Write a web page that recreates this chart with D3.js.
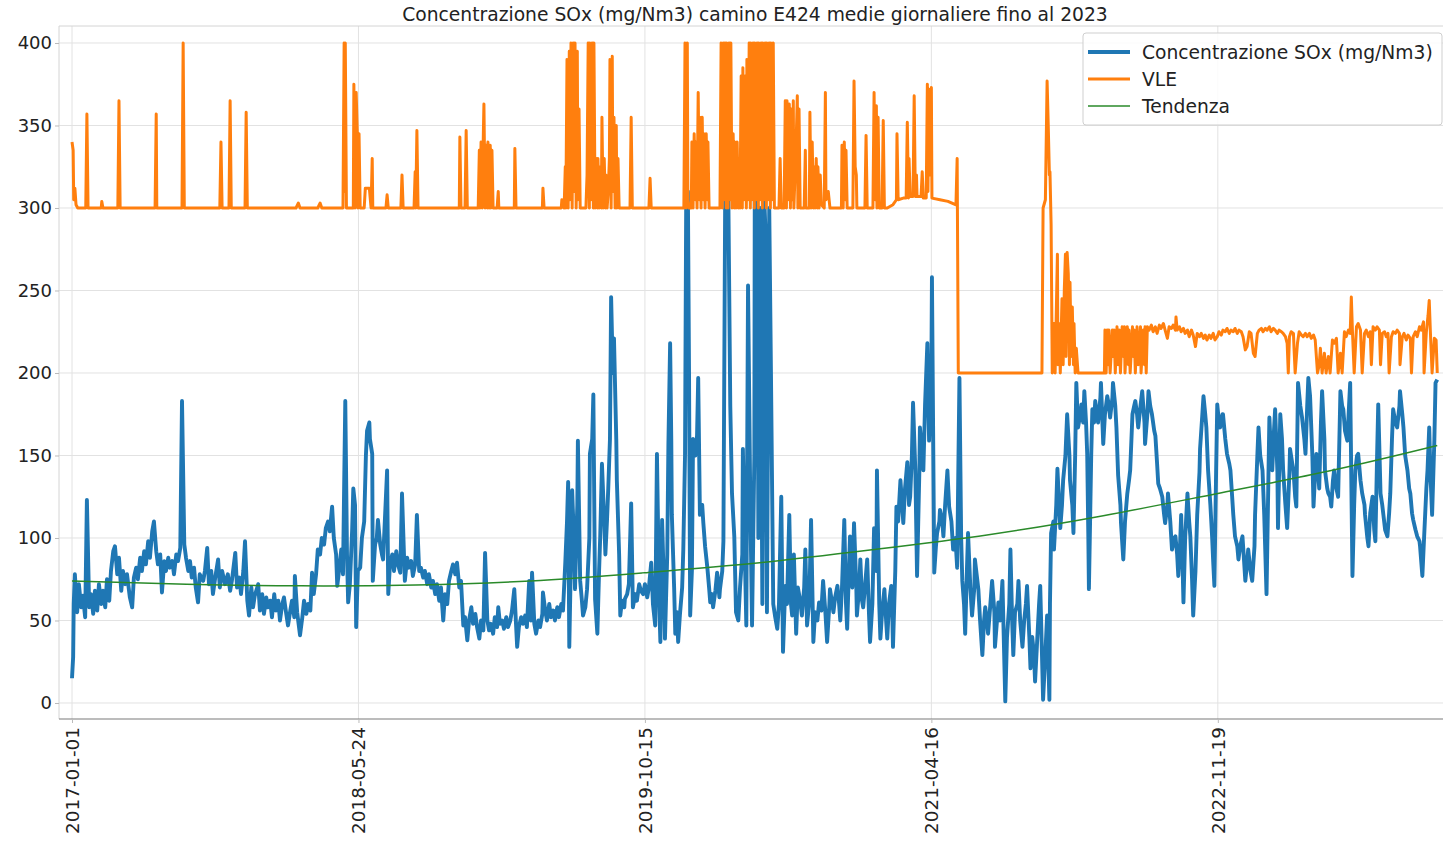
<!DOCTYPE html>
<html><head><meta charset="utf-8">
<script src="https://cdn.jsdelivr.net/npm/d3@7"></script>
<style>
body{margin:0;background:#fff;}
svg{display:block;font-family:"DejaVu Sans",sans-serif;}
</style>
</head><body>
<svg id="chart" width="1443" height="841"></svg>
<script>
// ---------------- DATA ----------------
const titleText = "Concentrazione SOx (mg/Nm3) camino E424 medie giornaliere fino al 2023";
const xTickIdx = [0, 500, 1000, 1500, 2000];
const xTickLabels = ["2017-01-01", "2018-05-24", "2019-10-15", "2021-04-16", "2022-11-19"];
const yTicks = [0, 50, 100, 150, 200, 250, 300, 350, 400];
const seriesNames = ["Concentrazione SOx (mg/Nm3)", "VLE", "Tendenza"];

// [record index, mg/Nm3]
const soxPoints = [[0,15],[2,28],[3,60],[5,78],[9,55],[12,72],[16,58],[19,65],[23,52],[26,123],[30,58],[33,66],[37,54],[40,68],[44,56],[47,72],[51,60],[54,68],[58,58],[61,75],[65,62],[68,80],[72,92],[75,95],[79,78],[82,88],[86,68],[89,80],[93,72],[96,78],[101,64],[105,58],[108,76],[112,82],[115,75],[119,88],[122,80],[126,92],[129,84],[133,98],[136,88],[140,104],[143,110],[147,92],[150,84],[154,90],[157,67],[161,86],[164,80],[168,88],[171,82],[175,86],[178,78],[182,90],[185,86],[189,94],[192,183],[196,96],[199,88],[203,80],[206,86],[209,76],[213,82],[216,70],[220,61],[223,78],[229,74],[232,80],[236,94],[239,72],[243,80],[246,66],[250,76],[255,87],[258,70],[262,80],[267,72],[272,78],[276,68],[279,74],[285,91],[288,70],[292,76],[295,66],[299,80],[302,98],[306,62],[309,53],[313,70],[316,58],[319,65],[325,72],[328,56],[332,66],[335,54],[339,64],[342,58],[346,62],[349,52],[353,66],[356,56],[360,62],[363,50],[367,60],[370,64],[374,54],[377,47],[381,56],[384,62],[388,52],[389,77],[393,55],[398,41],[402,52],[405,62],[409,54],[412,60],[416,56],[419,79],[422,66],[426,78],[429,93],[433,90],[436,100],[440,96],[443,106],[447,110],[450,104],[454,119],[457,100],[461,90],[463,71],[466,80],[470,93],[473,78],[477,183],[480,90],[482,61],[485,72],[489,105],[491,130],[494,120],[496,46],[499,80],[503,82],[506,100],[510,110],[513,150],[515,165],[519,170],[520,160],[524,151],[525,74],[529,96],[532,100],[534,111],[538,96],[541,90],[543,87],[546,110],[550,141],[552,66],[555,84],[559,90],[562,80],[566,92],[569,84],[573,79],[576,127],[580,84],[581,74],[585,88],[588,82],[592,86],[595,77],[599,84],[602,114],[606,80],[609,82],[613,76],[616,80],[620,72],[623,78],[627,70],[630,74],[634,66],[637,72],[641,62],[644,70],[648,50],[651,66],[655,60],[658,74],[662,80],[665,84],[669,78],[672,85],[676,70],[679,74],[683,47],[686,52],[690,38],[693,50],[697,58],[700,48],[704,54],[707,46],[711,39],[714,50],[718,44],[721,91],[725,50],[728,44],[731,48],[735,42],[738,52],[742,46],[744,58],[747,48],[751,50],[754,45],[758,52],[761,46],[765,50],[768,56],[772,69],[775,48],[777,34],[780,46],[784,52],[787,48],[791,53],[794,46],[798,74],[801,50],[803,79],[807,48],[810,42],[814,50],[817,46],[821,54],[822,67],[826,56],[829,50],[833,60],[836,52],[840,56],[843,50],[847,58],[850,52],[854,60],[857,56],[861,85],[864,110],[866,134],[868,34],[871,90],[873,129],[876,100],[878,69],[882,120],[883,159],[887,74],[890,62],[892,53],[896,58],[899,69],[903,100],[904,151],[908,160],[910,187],[913,63],[917,42],[920,80],[922,101],[925,145],[929,110],[931,90],[934,112],[936,130],[939,160],[941,246],[944,200],[946,221],[950,160],[951,135],[955,90],[957,53],[960,62],[964,58],[965,63],[969,66],[972,72],[976,121],[979,58],[983,66],[986,62],[990,72],[993,68],[997,66],[1000,72],[1004,64],[1007,70],[1011,85],[1014,60],[1018,47],[1021,151],[1025,60],[1027,37],[1030,111],[1034,60],[1035,39],[1039,90],[1041,157],[1044,218],[1046,160],[1047,114],[1051,70],[1053,42],[1056,55],[1058,37],[1061,53],[1065,70],[1067,93],[1070,150],[1072,300],[1075,310],[1077,200],[1079,53],[1082,80],[1084,160],[1088,150],[1091,162],[1093,197],[1096,114],[1100,120],[1102,109],[1105,95],[1109,82],[1112,70],[1114,61],[1117,66],[1119,58],[1123,68],[1126,79],[1130,64],[1131,69],[1135,80],[1137,98],[1140,300],[1143,390],[1145,330],[1149,180],[1152,127],[1156,101],[1159,55],[1163,50],[1166,70],[1170,90],[1171,154],[1175,80],[1177,47],[1180,253],[1184,120],[1187,47],[1191,150],[1192,365],[1196,300],[1198,100],[1201,300],[1205,60],[1208,310],[1210,290],[1213,55],[1217,300],[1220,200],[1224,60],[1227,53],[1231,45],[1234,60],[1238,125],[1241,31],[1245,71],[1248,60],[1252,114],[1255,60],[1257,53],[1260,90],[1264,42],[1267,70],[1271,62],[1274,53],[1278,70],[1280,93],[1283,47],[1287,62],[1290,111],[1294,37],[1297,55],[1301,50],[1304,61],[1308,56],[1311,74],[1315,55],[1318,37],[1322,60],[1323,69],[1327,60],[1329,55],[1332,64],[1336,71],[1339,60],[1341,50],[1344,70],[1348,111],[1351,60],[1353,45],[1356,80],[1358,101],[1362,70],[1365,109],[1369,70],[1370,53],[1374,70],[1376,87],[1379,62],[1381,58],[1384,70],[1388,87],[1391,55],[1393,37],[1397,60],[1400,106],[1404,80],[1405,141],[1409,60],[1411,39],[1414,55],[1418,69],[1421,50],[1423,39],[1426,60],[1430,71],[1432,50],[1433,34],[1437,80],[1439,119],[1442,110],[1446,135],[1449,120],[1451,109],[1454,130],[1458,146],[1461,120],[1463,125],[1466,150],[1468,182],[1472,141],[1475,77],[1479,140],[1480,167],[1484,150],[1486,141],[1489,181],[1493,218],[1496,159],[1500,200],[1501,258],[1505,79],[1508,95],[1510,103],[1514,110],[1515,117],[1519,110],[1521,101],[1524,120],[1528,141],[1531,119],[1535,110],[1538,93],[1542,100],[1545,82],[1549,197],[1552,100],[1554,74],[1557,60],[1559,42],[1562,80],[1564,103],[1568,70],[1571,53],[1575,70],[1576,87],[1580,75],[1582,69],[1585,50],[1589,29],[1592,50],[1594,58],[1597,50],[1599,42],[1603,60],[1606,74],[1610,55],[1611,34],[1615,52],[1617,61],[1620,50],[1624,74],[1627,30],[1629,1],[1632,40],[1636,60],[1638,93],[1641,50],[1643,29],[1646,55],[1650,60],[1652,74],[1655,50],[1659,34],[1662,50],[1665,60],[1667,71],[1671,40],[1673,21],[1676,40],[1679,30],[1681,13],[1685,40],[1688,60],[1690,71],[1693,30],[1695,2],[1699,30],[1702,53],[1706,2],[1707,60],[1709,103],[1713,110],[1714,93],[1718,120],[1720,142],[1723,120],[1725,106],[1728,120],[1730,135],[1734,150],[1737,175],[1741,150],[1742,135],[1746,120],[1748,103],[1751,150],[1753,194],[1756,167],[1760,175],[1762,181],[1765,170],[1767,189],[1770,170],[1772,151],[1774,100],[1775,69],[1779,150],[1781,178],[1784,170],[1786,183],[1789,175],[1791,170],[1795,185],[1796,194],[1800,157],[1803,175],[1807,186],[1810,180],[1812,173],[1816,185],[1817,194],[1821,180],[1823,167],[1826,138],[1830,120],[1831,109],[1835,87],[1838,110],[1842,127],[1845,135],[1847,141],[1851,175],[1854,180],[1856,183],[1859,175],[1861,167],[1865,180],[1868,189],[1872,170],[1873,157],[1877,175],[1879,189],[1882,180],[1885,175],[1889,165],[1891,162],[1894,145],[1896,133],[1899,130],[1903,125],[1906,115],[1908,109],[1912,120],[1913,127],[1917,110],[1920,93],[1924,100],[1926,101],[1929,90],[1931,77],[1934,95],[1936,114],[1938,90],[1940,61],[1943,100],[1947,127],[1950,110],[1952,101],[1955,75],[1957,53],[1961,80],[1964,114],[1968,140],[1969,154],[1973,175],[1975,186],[1978,175],[1980,167],[1983,141],[1987,120],[1990,101],[1992,85],[1994,71],[1997,140],[1999,181],[2002,170],[2004,167],[2008,175],[2009,175],[2013,160],[2016,151],[2020,145],[2022,141],[2025,125],[2027,114],[2030,101],[2034,95],[2036,87],[2039,95],[2043,101],[2046,85],[2048,74],[2051,85],[2053,93],[2057,80],[2060,74],[2064,95],[2065,114],[2069,150],[2071,167],[2074,150],[2078,141],[2081,114],[2085,66],[2088,130],[2090,173],[2093,150],[2095,141],[2098,165],[2100,178],[2104,140],[2105,106],[2109,175],[2112,160],[2114,141],[2118,120],[2121,106],[2125,140],[2126,154],[2130,145],[2132,141],[2135,125],[2137,119],[2140,194],[2144,180],[2147,173],[2151,160],[2153,151],[2156,180],[2158,197],[2161,186],[2165,150],[2167,119],[2170,140],[2172,151],[2175,140],[2177,130],[2180,170],[2182,189],[2186,160],[2187,141],[2191,130],[2193,127],[2196,125],[2198,119],[2201,135],[2203,141],[2207,130],[2210,125],[2214,189],[2217,180],[2219,178],[2222,165],[2226,159],[2229,180],[2231,194],[2235,77],[2238,120],[2240,141],[2243,150],[2245,151],[2249,135],[2252,127],[2256,120],[2257,114],[2261,100],[2263,95],[2266,115],[2270,125],[2273,105],[2275,98],[2278,150],[2280,181],[2284,127],[2287,120],[2289,114],[2292,105],[2296,101],[2299,115],[2301,127],[2304,160],[2306,178],[2310,170],[2313,167],[2317,180],[2318,189],[2322,175],[2324,167],[2327,150],[2331,141],[2334,130],[2336,127],[2339,115],[2341,111],[2345,105],[2348,101],[2352,98],[2353,95],[2357,77],[2360,100],[2364,130],[2366,141],[2369,167],[2371,140],[2374,114],[2378,160],[2380,194],[2383,196]];

const vlePoints = [[0,340],[2,335],[3,305],[5,312],[7,302],[10,300],[24,300],[26,357],[28,300],[51,300],[52,304],[54,300],[80,300],[82,365],[84,300],[145,300],[147,357],[148,300],[192,300],[194,400],[196,300],[258,300],[260,340],[262,300],[274,300],[276,365],[278,300],[302,300],[304,358],[306,300],[391,300],[395,303],[398,300],[429,300],[433,303],[436,300],[473,300],[475,400],[476,310],[477,400],[479,300],[491,300],[492,375],[494,300],[496,370],[498,345],[499,300],[501,345],[503,300],[510,300],[512,312],[519,312],[522,300],[524,330],[525,300],[548,300],[550,308],[552,300],[574,300],[576,320],[578,300],[597,300],[599,322],[600,300],[602,347],[604,300],[676,300],[677,343],[679,300],[686,300],[688,347],[690,300],[709,300],[711,335],[712,300],[714,340],[716,300],[718,345],[719,363],[721,300],[723,338],[725,300],[726,340],[728,300],[730,338],[731,300],[733,335],[735,300],[742,300],[744,310],[745,300],[772,300],[773,336],[775,300],[821,300],[822,312],[824,300],[854,300],[855,305],[859,300],[861,325],[862,300],[864,390],[866,300],[868,395],[869,305],[871,400],[873,300],[875,400],[876,310],[878,400],[880,300],[882,395],[883,305],[885,360],[887,300],[897,300],[899,320],[901,400],[903,300],[904,400],[906,305],[908,400],[910,300],[911,400],[913,300],[915,330],[917,300],[918,330],[920,300],[922,325],[924,300],[925,355],[927,300],[929,330],[931,300],[932,320],[934,300],[936,310],[938,330],[939,390],[941,300],[943,392],[944,310],[946,355],[948,300],[950,350],[951,300],[953,330],[955,300],[974,300],[976,355],[978,300],[1007,300],[1009,318],[1011,300],[1068,300],[1070,400],[1072,300],[1074,400],[1075,305],[1077,300],[1081,300],[1082,340],[1084,300],[1086,345],[1088,305],[1089,340],[1091,300],[1093,370],[1095,305],[1096,355],[1098,300],[1100,355],[1102,305],[1103,345],[1105,300],[1107,345],[1109,305],[1110,340],[1112,300],[1131,300],[1133,400],[1135,300],[1137,400],[1138,305],[1140,400],[1142,300],[1143,400],[1145,300],[1147,400],[1149,305],[1150,400],[1152,300],[1154,345],[1156,300],[1157,340],[1159,300],[1161,340],[1163,300],[1164,330],[1166,300],[1168,380],[1170,300],[1171,385],[1173,305],[1175,380],[1177,300],[1178,390],[1180,305],[1182,400],[1184,300],[1185,400],[1187,305],[1189,400],[1191,300],[1192,400],[1194,305],[1196,400],[1198,300],[1199,400],[1201,305],[1203,400],[1205,300],[1206,400],[1208,305],[1210,400],[1212,300],[1213,400],[1215,305],[1217,400],[1219,300],[1220,400],[1222,305],[1224,400],[1226,300],[1234,300],[1236,330],[1238,300],[1243,300],[1245,365],[1247,300],[1248,365],[1250,305],[1252,363],[1254,300],[1255,360],[1257,305],[1259,365],[1260,300],[1264,340],[1266,368],[1267,300],[1269,360],[1271,300],[1278,300],[1280,335],[1281,300],[1287,300],[1288,358],[1290,300],[1292,340],[1294,300],[1295,325],[1297,300],[1299,330],[1301,300],[1302,325],[1304,300],[1306,320],[1308,302],[1313,300],[1315,370],[1316,305],[1320,310],[1323,300],[1343,300],[1344,338],[1346,300],[1348,340],[1350,305],[1351,335],[1353,300],[1355,300],[1363,300],[1365,377],[1367,325],[1369,320],[1370,300],[1384,300],[1386,344],[1388,300],[1398,300],[1400,370],[1402,305],[1404,362],[1405,300],[1407,355],[1409,300],[1414,300],[1416,353],[1418,300],[1423,300],[1433,302],[1439,305],[1440,345],[1442,305],[1451,306],[1456,306],[1458,352],[1460,306],[1461,330],[1463,307],[1468,307],[1470,368],[1472,307],[1474,320],[1475,307],[1482,307],[1484,322],[1486,306],[1491,306],[1493,375],[1494,310],[1496,372],[1498,320],[1500,373],[1501,306],[1515,305],[1529,304],[1542,302],[1543,303],[1545,330],[1547,200],[1693,200],[1695,300],[1699,305],[1702,377],[1704,350],[1706,320],[1707,322],[1709,290],[1711,200],[1714,230],[1716,200],[1720,272],[1721,205],[1723,230],[1725,200],[1728,245],[1730,205],[1732,250],[1734,272],[1735,210],[1737,273],[1739,260],[1741,205],[1742,255],[1744,210],[1746,240],[1748,205],[1749,230],[1751,200],[1753,215],[1756,200],[1802,200],[1803,226],[1805,200],[1807,226],[1809,205],[1810,226],[1812,200],[1816,226],[1817,210],[1819,226],[1821,200],[1824,228],[1826,205],[1828,226],[1830,200],[1833,228],[1835,210],[1837,228],[1838,200],[1842,228],[1844,205],[1845,226],[1847,200],[1851,228],[1852,210],[1854,226],[1856,200],[1859,228],[1861,205],[1865,228],[1866,200],[1870,226],[1872,205],[1873,228],[1875,200],[1877,228],[1880,226],[1884,229],[1887,225],[1891,228],[1894,224],[1898,229],[1901,227],[1905,230],[1908,226],[1912,221],[1915,228],[1919,227],[1922,229],[1926,226],[1927,234],[1929,226],[1933,228],[1936,225],[1940,227],[1943,224],[1947,226],[1950,222],[1954,226],[1957,223],[1961,216],[1964,224],[1968,222],[1971,224],[1975,221],[1978,223],[1981,220],[1985,223],[1988,221],[1992,224],[1995,220],[1999,222],[2002,225],[2006,223],[2009,226],[2013,225],[2016,227],[2020,224],[2023,226],[2027,225],[2030,227],[2034,224],[2037,226],[2041,225],[2044,222],[2048,214],[2051,216],[2055,225],[2058,224],[2062,212],[2065,210],[2069,224],[2072,226],[2076,227],[2079,225],[2083,227],[2086,226],[2090,228],[2093,225],[2097,227],[2100,226],[2104,224],[2107,226],[2111,225],[2114,224],[2118,222],[2121,218],[2123,200],[2125,222],[2128,225],[2132,224],[2133,215],[2135,200],[2139,218],[2142,225],[2146,223],[2149,222],[2153,224],[2156,222],[2160,224],[2163,221],[2167,223],[2170,220],[2174,200],[2177,205],[2179,215],[2182,200],[2186,212],[2189,200],[2193,210],[2196,200],[2200,220],[2203,218],[2207,221],[2210,200],[2214,212],[2217,200],[2221,225],[2224,222],[2228,226],[2231,224],[2233,246],[2235,225],[2238,200],[2242,228],[2245,230],[2249,226],[2252,200],[2256,224],[2259,226],[2263,222],[2266,225],[2268,205],[2271,228],[2275,226],[2278,228],[2282,226],[2284,205],[2287,224],[2291,225],[2294,222],[2297,224],[2299,200],[2303,222],[2306,225],[2310,224],[2313,226],[2317,224],[2318,205],[2322,222],[2325,224],[2329,220],[2332,223],[2336,221],[2338,200],[2341,222],[2345,225],[2348,222],[2352,228],[2355,226],[2359,231],[2360,200],[2364,225],[2367,235],[2369,244],[2371,225],[2374,200],[2378,221],[2381,220],[2383,200]];

const trendPoints = [[0,74],[200,72],[400,71],[600,71.5],[800,74],[1000,79],[1200,85],[1400,93],[1600,102],[1800,113.5],[2000,127],[2200,141],[2383,156]];

// ---------------- CHART ----------------
const svg = d3.select("#chart");
const box = {left:59, top:26, right:1451, bottom:719};
const x = d3.scaleLinear().domain([-22.7, 2407]).range([box.left, box.right]);
const y = d3.scaleLinear().domain([-9.7, 410.3]).range([box.bottom, box.top]);
const colors = ["#1f77b4", "#ff7f0e", "#2a8a2a"];

svg.append("rect").attr("width",1443).attr("height",841).attr("fill","#fff");

svg.append("defs").append("clipPath").attr("id","plotclip")
  .append("rect").attr("x",box.left).attr("y",box.top)
  .attr("width",box.right-box.left).attr("height",box.bottom-box.top);

// grid
const grid = svg.append("g");
grid.selectAll("line.gy").data(yTicks).join("line")
  .attr("x1",box.left).attr("x2",box.right)
  .attr("y1",d=>y(d)).attr("y2",d=>y(d))
  .attr("stroke","#e2e2e2").attr("stroke-width",1);
grid.selectAll("line.gx").data(xTickIdx).join("line")
  .attr("y1",box.top).attr("y2",box.bottom)
  .attr("x1",d=>x(d)).attr("x2",d=>x(d))
  .attr("stroke","#e2e2e2").attr("stroke-width",1);

// spines
svg.append("line").attr("x1",box.left).attr("x2",box.left).attr("y1",box.top).attr("y2",box.bottom)
  .attr("stroke","#d4d4d4").attr("stroke-width",1);
svg.append("line").attr("x1",box.left).attr("x2",box.right).attr("y1",box.top).attr("y2",box.top)
  .attr("stroke","#d4d4d4").attr("stroke-width",1);
svg.append("line").attr("x1",box.left).attr("x2",box.right).attr("y1",box.bottom).attr("y2",box.bottom)
  .attr("stroke","#7a7a7a").attr("stroke-width",1.2);

// axes
const yAxis = svg.append("g").attr("transform",`translate(${box.left},0)`)
  .call(d3.axisLeft(y).tickValues(yTicks).tickSize(4).tickPadding(3));
yAxis.select(".domain").remove();
yAxis.selectAll(".tick line").attr("stroke","#bbb");
yAxis.selectAll(".tick text").attr("font-size","18px").attr("fill","#222")
  .attr("font-family","DejaVu Sans, sans-serif");

const xAxis = svg.append("g").attr("transform",`translate(0,${box.bottom})`)
  .call(d3.axisBottom(x).tickValues(xTickIdx).tickFormat((d,i)=>xTickLabels[i]).tickSize(4));
xAxis.select(".domain").remove();
xAxis.selectAll(".tick line").attr("stroke","#bbb");
xAxis.selectAll(".tick text")
  .attr("font-size","18.4px").attr("fill","#222").attr("font-family","DejaVu Sans, sans-serif")
  .attr("transform","rotate(-90)").attr("text-anchor","end")
  .attr("x",-8).attr("y",0).attr("dy","0.35em");

// lines
const plot = svg.append("g").attr("clip-path","url(#plotclip)");
const line = d3.line().x(d=>x(d[0])).y(d=>y(d[1]));
plot.append("path").datum(soxPoints).attr("d",line)
  .attr("fill","none").attr("stroke",colors[0]).attr("stroke-width",3.9).attr("stroke-linejoin","round");
plot.append("path").datum(vlePoints).attr("d",line)
  .attr("fill","none").attr("stroke",colors[1]).attr("stroke-width",3).attr("stroke-linejoin","round");
plot.append("path").datum(trendPoints).attr("d",d3.line().x(d=>x(d[0])).y(d=>y(d[1])).curve(d3.curveNatural))
  .attr("fill","none").attr("stroke",colors[2]).attr("stroke-width",1.5);

// title
svg.append("text").attr("x",(box.left+box.right)/2).attr("y",21)
  .attr("text-anchor","middle").attr("font-size","18.7px").attr("fill","#222")
  .text(titleText);

// legend
const lg = svg.append("g");
lg.append("rect").attr("x",1083).attr("y",33).attr("width",359).attr("height",92).attr("rx",3)
  .attr("fill","#fff").attr("fill-opacity",0.85).attr("stroke","#cfcfcf");
const widths = [3.9, 3, 1.5];
seriesNames.forEach((name,i)=>{
  const yy = 52 + i*27;
  lg.append("line").attr("x1",1088).attr("x2",1130).attr("y1",yy).attr("y2",yy)
    .attr("stroke",colors[i]).attr("stroke-width",widths[i]);
  lg.append("text").attr("x",1142).attr("y",yy).attr("dy","0.35em")
    .attr("font-size","18.7px").attr("fill","#222").text(name);
});
</script>
</body></html>
